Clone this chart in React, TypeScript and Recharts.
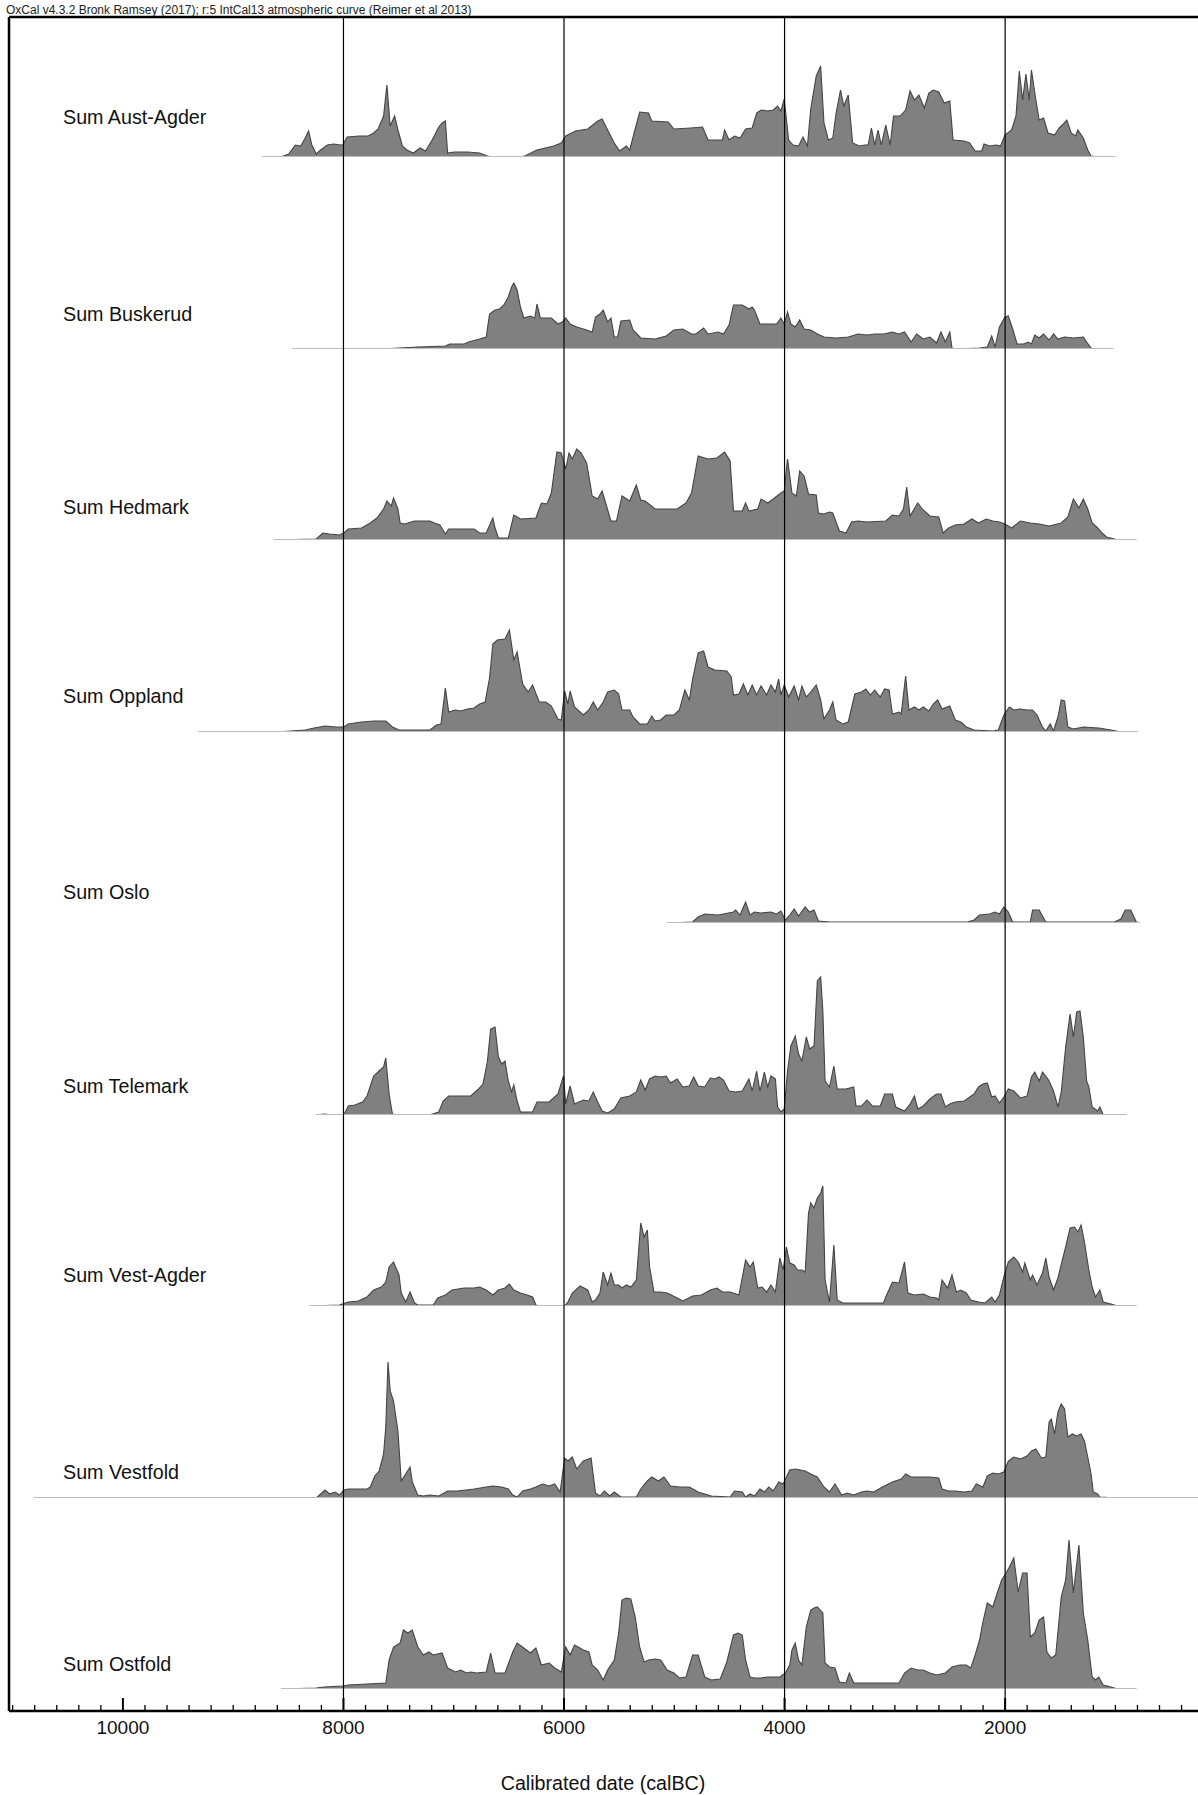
import React from 'react';
import { AreaChart, Area, XAxis, YAxis, ReferenceLine, ComposedChart, Line } from 'recharts';

// ---------- data: [calBC year, relative probability (scaled)] ----------
const REGIONS: string[] = [
  'Sum Aust-Agder', 'Sum Buskerud', 'Sum Hedmark', 'Sum Oppland', 'Sum Oslo',
  'Sum Telemark', 'Sum Vest-Agder', 'Sum Vestfold', 'Sum Ostfold',
];

const AUST_AGDER: [number, number][] = [[8730,0],[8560,0],[8490,3],[8430,12],[8380,11],[8340,19],[8310,26],[8280,12],[8240,3],[8200,7],[8140,12],[8080,13],[8020,12],[8000,12],[7960,20],[7850,21],[7770,21],[7720,24],[7680,28],[7630,41],[7600,72],[7570,31],[7530,41],[7500,27],[7460,11],[7420,7],[7360,4],[7300,9],[7250,6],[7190,17],[7130,30],[7100,34],[7070,36],[7050,4],[6990,5],[6870,5],[6760,4],[6690,1],[6640,0],[6410,0],[6350,1],[6240,7],[6090,11],[6020,14],[5980,21],[5890,26],[5780,28],[5690,36],[5650,38],[5600,27],[5540,14],[5490,6],[5430,11],[5400,7],[5360,24],[5310,45],[5230,44],[5200,36],[5050,35],[5000,28],[4850,29],[4740,30],[4690,17],[4560,17],[4540,27],[4500,17],[4450,21],[4400,19],[4350,28],[4290,29],[4250,44],[4210,47],[4150,46],[4100,47],[4060,51],[4030,46],[4000,58],[3960,17],[3920,12],[3870,11],[3830,20],[3790,11],[3760,48],[3710,81],[3670,91],[3640,34],[3600,17],[3560,19],[3530,44],[3490,67],[3460,51],[3420,62],[3380,14],[3320,11],[3270,12],[3240,12],[3210,29],[3180,12],[3150,27],[3120,12],[3080,32],[3040,12],[3010,41],[2950,41],[2900,47],[2860,66],[2820,57],[2780,62],[2730,49],[2690,64],[2650,67],[2600,65],[2550,54],[2500,56],[2470,17],[2370,16],[2320,14],[2270,6],[2210,6],[2190,13],[2140,11],[2080,12],[2040,11],[2000,22],[1940,27],[1900,41],[1870,86],[1840,57],[1810,83],[1780,57],[1760,87],[1720,57],[1690,37],[1650,39],[1610,24],[1550,22],[1510,29],[1480,32],[1440,37],[1400,24],[1360,21],[1340,27],[1290,19],[1250,7],[1220,1],[1160,0],[1000,0]];

const BUSKERUD: [number, number][] = [[8455,0],[7610,0.3],[7320,2],[7070,3],[7030,5],[6900,5],[6860,7],[6760,10],[6700,12],[6670,35],[6620,39],[6580,40],[6540,44],[6500,52],[6470,62],[6450,66],[6420,59],[6390,42],[6360,31],[6300,33],[6260,31],[6240,45],[6210,31],[6110,31],[6050,25],[6010,27],[5980,31],[5940,25],[5880,22],[5790,19],[5740,17],[5710,32],[5670,35],[5640,39],[5600,27],[5570,31],[5540,12],[5510,12],[5480,28],[5400,29],[5370,19],[5300,11],[5170,10],[5070,13],[5000,19],[4920,20],[4840,15],[4800,15],[4730,21],[4690,15],[4600,17],[4550,15],[4500,24],[4460,44],[4380,44],[4320,40],[4290,42],[4270,39],[4220,25],[4070,25],[4030,31],[4000,25],[3970,37],[3940,25],[3900,22],[3860,29],[3820,20],[3760,19],[3700,15],[3640,12],[3530,11],[3420,12],[3330,15],[3250,14],[3180,15],[3100,15],[3020,17],[2960,15],[2910,17],[2850,7],[2800,15],[2740,10],[2680,12],[2620,6],[2580,17],[2540,7],[2500,17],[2480,1],[2450,0],[2230,1],[2160,2],[2120,13],[2090,2],[2050,22],[2000,32],[1970,33],[1930,20],[1890,5],[1830,5],[1790,7],[1760,5],[1730,14],[1690,11],[1650,15],[1600,9],[1560,15],[1520,10],[1460,12],[1380,11],[1290,12],[1260,7],[1220,1],[1200,0],[1020,0]];

const HEDMARK: [number, number][] = [[8625,0],[8240,1],[8180,7],[8120,6],[8030,5],[7990,7],[7950,11],[7830,12],[7750,17],[7690,22],[7630,31],[7600,39],[7560,34],[7540,42],[7500,31],[7480,17],[7440,16],[7350,19],[7210,19],[7170,17],[7120,15],[7070,6],[7040,11],[6980,11],[6810,11],[6760,7],[6700,7],[6640,22],[6620,12],[6590,2],[6500,2],[6450,25],[6390,21],[6250,22],[6200,37],[6150,36],[6110,47],[6060,88],[6020,87],[5980,71],[5950,87],[5920,81],[5880,91],[5840,87],[5790,77],[5740,44],[5690,41],[5650,49],[5610,34],[5570,19],[5520,19],[5470,44],[5400,39],[5340,55],[5300,40],[5260,39],[5170,31],[5060,31],[4970,31],[4890,37],[4840,47],[4780,84],[4690,81],[4610,82],[4540,88],[4490,79],[4460,29],[4380,29],[4350,37],[4320,29],[4240,31],[4210,41],[4150,37],[4100,41],[4030,47],[4000,49],[3970,81],[3930,47],[3890,44],[3860,69],[3820,64],[3780,46],[3710,45],[3690,27],[3640,26],[3590,28],[3560,27],[3500,9],[3440,7],[3390,18],[3330,19],[3250,18],[3080,19],[3020,25],[2960,24],[2920,31],[2890,53],[2860,24],[2790,37],[2750,31],[2680,24],[2600,23],[2560,7],[2510,12],[2450,15],[2370,16],[2300,21],[2240,17],[2170,21],[2110,19],[2050,18],[2000,16],[1940,12],[1860,19],[1770,17],[1690,16],[1600,14],[1490,17],[1430,23],[1380,41],[1330,32],[1290,41],[1250,31],[1210,17],[1160,12],[1120,7],[1080,3],[1010,1],[980,0],[810,0]];

const OPPLAND: [number, number][] = [[9305,0],[8570,0.3],[8340,2],[8260,4],[8160,6],[8060,5],[7990,5],[7950,8],[7830,10],[7720,11],[7610,11],[7550,5],[7490,2],[7210,2],[7150,7],[7110,8],[7070,44],[7040,20],[6980,22],[6930,21],[6870,23],[6810,24],[6760,28],[6710,30],[6670,54],[6640,88],[6600,92],[6530,93],[6490,102],[6450,72],[6420,80],[6370,48],[6320,40],[6280,47],[6220,30],[6160,30],[6110,26],[6050,13],[6020,12],[5990,41],[5960,28],[5940,41],[5900,25],[5820,17],[5770,22],[5730,30],[5690,22],[5640,30],[5600,40],[5540,42],[5500,38],[5470,22],[5400,22],[5370,15],[5310,8],[5240,8],[5200,16],[5170,11],[5120,12],[5070,17],[5000,17],[4950,22],[4900,42],[4860,32],[4830,53],[4780,79],[4730,81],[4690,65],[4630,62],[4520,61],[4480,55],[4460,37],[4410,38],[4370,48],[4330,37],[4290,47],[4250,37],[4210,46],[4160,37],[4120,47],[4080,40],[4050,53],[4030,37],[4000,47],[3960,35],[3910,46],[3870,32],[3840,46],[3800,35],[3760,40],[3710,47],[3670,32],[3640,13],[3590,22],[3560,30],[3530,12],[3470,8],[3420,10],[3360,38],[3300,40],[3260,43],[3220,37],[3180,42],[3130,35],[3090,43],[3050,42],[3020,18],[2960,20],[2940,18],[2900,56],[2870,22],[2820,25],[2780,22],[2740,25],[2690,21],[2650,28],[2610,32],[2570,23],[2500,26],[2450,12],[2400,10],[2350,5],[2280,2],[2110,1],[2060,2],[2010,17],[1960,25],[1920,22],[1860,23],[1800,22],[1750,22],[1710,17],[1660,5],[1630,1],[1590,8],[1560,1],[1520,15],[1490,32],[1460,31],[1430,5],[1380,3],[1290,5],[1150,4],[1040,2],[950,0],[800,0]];

const OSLO: [number, number][] = [[5058,0],[4830,1],[4780,6],[4720,9],[4600,8],[4550,9],[4460,11],[4440,13],[4400,8],[4350,21],[4310,8],[4270,11],[4210,10],[4120,11],[4070,9],[4030,12],[3990,3],[3950,8],[3910,14],[3870,7],[3810,16],[3770,11],[3730,13],[3690,2],[3590,1],[2340,1],[2280,3],[2230,8],[2140,9],[2090,11],[2050,9],[2010,16],[1970,11],[1930,1],[1770,1],[1750,13],[1690,13],[1630,1],[1010,1],[950,4],[910,13],[860,13],[810,1],[780,0]];

const TELEMARK: [number, number][] = [[8240,0],[8170,1],[8090,0.3],[7990,0],[7950,9],[7890,10],[7820,13],[7780,19],[7720,39],[7670,44],[7630,48],[7610,57],[7580,21],[7550,1],[7520,0],[7210,0.3],[7130,3],[7090,14],[7040,19],[6840,19],[6770,26],[6730,31],[6690,53],[6660,86],[6620,88],[6590,58],[6560,51],[6530,54],[6500,34],[6470,23],[6450,30],[6420,14],[6390,3],[6280,3],[6240,13],[6130,13],[6080,18],[6050,21],[6000,39],[5980,11],[5940,29],[5900,11],[5820,15],[5770,14],[5730,23],[5690,13],[5650,4],[5600,2],[5540,6],[5480,17],[5400,19],[5340,23],[5300,35],[5260,25],[5220,36],[5170,39],[5120,38],[5070,39],[5030,32],[4970,36],[4920,28],[4860,29],[4820,38],[4780,29],[4720,28],[4670,37],[4630,36],[4590,38],[4550,35],[4500,24],[4440,23],[4380,24],[4320,36],[4290,24],[4250,44],[4220,24],[4180,43],[4150,28],[4120,39],[4080,36],[4060,8],[4030,3],[4000,6],[3970,44],[3940,69],[3900,79],[3870,61],[3840,54],[3800,78],[3770,66],[3730,69],[3700,134],[3670,138],[3650,104],[3630,34],[3590,28],[3550,49],[3520,26],[3440,26],[3370,28],[3350,9],[3300,9],[3250,15],[3200,9],[3130,9],[3090,21],[3020,21],[2990,8],[2910,4],[2860,11],[2820,19],[2790,6],[2740,9],[2680,16],[2620,21],[2580,21],[2540,8],[2500,11],[2450,13],[2370,14],[2280,21],[2240,28],[2200,31],[2160,32],[2120,18],[2090,19],[2050,12],[2010,18],[1970,26],[1920,24],[1860,17],[1800,19],[1760,38],[1730,43],[1690,34],[1660,43],[1630,39],[1600,34],[1560,24],[1520,8],[1490,23],[1450,68],[1410,101],[1380,78],[1350,103],[1320,104],[1290,78],[1260,34],[1240,28],[1210,8],[1160,4],[1140,8],[1110,0.3],[1080,0],[900,0]];

const VEST_AGDER: [number, number][] = [[8300,0],[8030,1],[7950,4],[7860,5],[7780,9],[7720,16],[7650,19],[7610,24],[7580,39],[7540,44],[7490,31],[7470,13],[7430,4],[7390,14],[7350,3],[7320,1],[7180,1],[7140,8],[7070,11],[7010,16],[6900,18],[6810,18],[6760,19],[6700,16],[6640,11],[6590,16],[6530,18],[6490,22],[6450,16],[6390,13],[6330,11],[6280,9],[6250,1],[6220,0],[5990,0],[5960,4],[5920,13],[5850,20],[5780,16],[5740,4],[5710,6],[5670,13],[5640,34],[5600,21],[5570,33],[5540,21],[5500,21],[5470,18],[5430,21],[5390,19],[5340,26],[5300,83],[5270,69],[5240,76],[5220,39],[5180,14],[5120,14],[5060,13],[4970,8],[4920,5],[4830,10],[4750,11],[4670,16],[4610,18],[4560,14],[4490,14],[4410,11],[4350,46],[4310,39],[4280,44],[4240,18],[4200,19],[4160,14],[4120,21],[4080,14],[4040,48],[4010,36],[3980,59],[3950,43],[3910,41],[3880,36],[3840,36],[3810,34],[3780,93],[3760,103],[3730,98],[3700,108],[3670,113],[3650,120],[3630,26],[3590,4],[3550,61],[3520,6],[3470,3],[3360,3],[3100,3],[3080,9],[3020,24],[2960,23],[2910,44],[2880,13],[2820,11],[2740,12],[2680,9],[2620,8],[2600,6],[2570,26],[2520,18],[2480,31],[2440,14],[2400,16],[2350,13],[2310,6],[2240,4],[2180,3],[2120,9],[2090,4],[2050,11],[2010,29],[1970,44],[1920,49],[1880,44],[1840,34],[1820,43],[1770,26],[1750,31],[1710,21],[1660,33],[1630,48],[1600,29],[1560,16],[1520,28],[1480,46],[1450,59],[1410,78],[1370,79],[1340,74],[1310,81],[1280,64],[1240,36],[1210,19],[1180,9],[1140,16],[1110,4],[1040,2],[980,0],[810,0]];

const VESTFOLD: [number, number][] = [[10800,0],[8240,0],[8200,4],[8160,8],[8120,4],[8070,6],[8030,3],[7990,8],[7950,9],[7780,9],[7750,11],[7710,22],[7670,27],[7630,44],[7610,71],[7590,136],[7570,107],[7540,97],[7500,67],[7470,17],[7430,24],[7390,31],[7370,16],[7320,3],[7270,2],[7210,3],[7130,2],[7050,7],[6960,7],[6810,9],[6700,11],[6640,12],[6560,11],[6500,9],[6460,3],[6420,1],[6370,7],[6300,9],[6250,11],[6190,14],[6130,12],[6080,14],[6030,6],[5990,40],[5960,37],[5920,41],[5880,29],[5820,37],[5750,40],[5710,5],[5670,2],[5630,7],[5580,2],[5540,6],[5480,1],[5340,1],[5300,9],[5240,17],[5200,21],[5140,17],[5090,21],[5030,12],[4950,11],[4860,11],[4780,6],[4660,2],[4490,1],[4450,7],[4380,6],[4350,1],[4310,4],[4270,2],[4220,9],[4180,6],[4140,11],[4100,7],[4050,16],[4010,14],[3950,28],[3900,29],[3810,27],[3760,24],[3700,21],[3640,11],[3590,6],[3540,14],[3480,3],[3430,5],[3370,3],[3300,6],[3250,7],[3190,6],[3110,11],[3020,16],[2940,19],[2900,24],[2850,21],[2680,21],[2600,20],[2570,9],[2510,7],[2450,7],[2370,6],[2300,7],[2260,14],[2200,11],[2160,22],[2110,25],[2060,24],[2010,26],[1970,37],[1920,41],[1860,39],[1800,42],[1760,47],[1720,49],[1670,40],[1630,41],[1600,76],[1580,79],[1550,64],[1520,86],[1490,94],[1460,89],[1430,61],[1390,64],[1350,62],[1310,64],[1280,57],[1250,41],[1220,24],[1200,6],[1160,4],[1140,1],[980,0],[251,0]];

const OSTFOLD: [number, number][] = [[8560,0],[8240,1],[8170,2],[8000,3],[7950,4],[7780,5],[7610,6],[7580,29],[7540,42],[7480,46],[7450,59],[7410,56],[7370,59],[7320,42],[7270,34],[7220,37],[7180,34],[7100,36],[7050,21],[6980,17],[6930,19],[6880,16],[6840,17],[6790,16],[6700,17],[6660,36],[6620,16],[6530,16],[6460,37],[6420,46],[6360,41],[6300,36],[6250,41],[6200,24],[6130,26],[6080,21],[6020,17],[5980,42],[5940,34],[5900,44],[5820,39],[5770,37],[5740,24],[5690,19],[5640,9],[5600,19],[5540,29],[5500,56],[5470,89],[5430,91],[5390,90],[5350,72],[5310,42],[5270,27],[5230,29],[5170,30],[5120,29],[5060,19],[5000,16],[4950,11],[4890,12],[4830,34],[4780,34],[4720,12],[4660,9],[4580,10],[4520,27],[4460,54],[4420,56],[4380,54],[4350,29],[4310,12],[4270,11],[4210,11],[4150,12],[4100,12],[4040,12],[3990,16],[3950,24],[3930,39],[3900,46],[3870,29],[3840,24],[3800,62],[3760,79],[3730,81],[3700,82],[3650,76],[3630,26],[3590,22],[3540,21],[3500,7],[3440,6],[3410,16],[3370,6],[3300,6],[2960,6],[2910,16],[2850,21],[2790,19],[2740,19],[2680,16],[2620,14],[2540,16],[2480,22],[2410,24],[2350,24],[2310,21],[2270,34],[2230,49],[2200,67],[2160,86],[2110,82],[2070,96],[2030,109],[1990,116],[1960,122],[1920,131],[1880,97],[1840,116],[1800,116],[1770,52],[1730,56],[1690,69],[1650,72],[1620,37],[1580,31],[1540,34],[1490,92],[1450,109],[1420,149],[1380,96],[1330,144],[1290,76],[1250,49],[1210,12],[1180,9],[1150,12],[1110,4],[1040,2],[980,0],[810,0]];

const SERIES: [number, number][][] = [AUST_AGDER, BUSKERUD, HEDMARK, OPPLAND, OSLO, TELEMARK, VEST_AGDER, VESTFOLD, OSTFOLD];

const TICK_LABELS: number[] = [10000, 8000, 6000, 4000, 2000];
const GRID_YEARS: number[] = [8000, 6000, 4000, 2000];
const MINOR_STEP = 200;
const TICK_FIRST = 11000;
const TICK_LAST = 400;

const HEADER = 'OxCal v4.3.2 Bronk Ramsey (2017); r:5 IntCal13 atmospheric curve (Reimer et al 2013)';
const X_TITLE = 'Calibrated date (calBC)';

// ---------- layout ----------
const W = 1198;
const PAGE_H = 1795;
const PLOT_LEFT = 8;
const FRAME_TOP = 17;
const AXIS_Y = 1712;
const X_MIN = 251;
const X_MAX = 11033;
const ROW_H = 155;
const Y_MAX = 155;
const FIRST_BASELINE = 157;
const ROW_STEP = 191.5;
const LABEL_CENTER_Y = [117, 314, 507, 696, 892, 1086, 1275, 1472, 1664];
const FONT = '"Liberation Sans", Arial, Helvetica, sans-serif';

const ALL_TICKS: number[] = [];
for (let t = TICK_FIRST; t >= TICK_LAST; t -= MINOR_STEP) ALL_TICKS.push(t);

function RowChart({ series, baseline }: { series: [number, number][]; baseline: number }) {
  const data = series.map(([year, v]) => ({ year, v }));
  const first = series[0][0];
  const last = series[series.length - 1][0];
  return (
    <div style={{ position: 'absolute', left: 0, top: baseline - ROW_H, width: W, height: ROW_H }}>
      <AreaChart width={W} height={ROW_H} data={data} margin={{ top: 0, right: 0, bottom: 0, left: PLOT_LEFT }}>
        <XAxis dataKey="year" type="number" domain={[X_MIN, X_MAX]} reversed hide allowDataOverflow />
        <YAxis type="number" domain={[0, Y_MAX]} hide allowDataOverflow />
        <ReferenceLine
          segment={[{ x: first, y: 0 }, { x: last, y: 0 }]}
          stroke="#bdbdbd"
          strokeWidth={2.2}
          ifOverflow="visible"
        />
        <Area
          type="linear"
          dataKey="v"
          stroke="#444444"
          strokeWidth={1.1}
          fill="#808080"
          fillOpacity={1}
          dot={false}
          activeDot={false}
          isAnimationActive={false}
        />
      </AreaChart>
    </div>
  );
}

const renderTick = (props: any) => {
  const { x, payload } = props;
  const v = payload.value as number;
  const major = TICK_LABELS.includes(v);
  return (
    <g key={`t-${v}`}>
      <line x1={x} x2={x} y1={AXIS_Y} y2={AXIS_Y - (major ? 14 : 7)} stroke="#000" strokeWidth={major ? 2 : 1.3} />
      {major && (
        <text x={x} y={AXIS_Y + 22} textAnchor="middle" fontSize={19} fontFamily={FONT} fill="#111">
          {v}
        </text>
      )}
    </g>
  );
};

const FRAME_DATA = GRID_YEARS.map((year) => ({ year, base: 0 }));

export default function App() {
  return (
    <div style={{ position: 'absolute', left: 0, top: 0, width: W, height: PAGE_H, background: '#fff', fontFamily: FONT, overflow: 'hidden' }}>
      <div style={{ position: 'absolute', left: 6, top: 3, fontSize: 12, lineHeight: '14px', color: '#222', whiteSpace: 'nowrap' }}>
        {HEADER}
      </div>

      {SERIES.map((s, i) => (
        <RowChart key={REGIONS[i]} series={s} baseline={FIRST_BASELINE + i * ROW_STEP} />
      ))}

      {REGIONS.map((name, i) => (
        <div
          key={`lbl-${name}`}
          style={{ position: 'absolute', left: 63, top: LABEL_CENTER_Y[i] - 10, fontSize: 19.7, lineHeight: '20px', color: '#111', whiteSpace: 'nowrap' }}
        >
          {name}
        </div>
      ))}

      <div style={{ position: 'absolute', left: 0, top: 0, width: W, height: PAGE_H }}>
        <ComposedChart
          width={W}
          height={PAGE_H}
          data={FRAME_DATA}
          margin={{ top: FRAME_TOP, right: 0, bottom: PAGE_H - AXIS_Y, left: PLOT_LEFT }}
        >
          <XAxis
            dataKey="year"
            type="number"
            domain={[X_MIN, X_MAX]}
            reversed
            allowDataOverflow
            ticks={ALL_TICKS}
            interval={0}
            tickSize={0}
            tickMargin={0}
            tickLine={false}
            tick={renderTick}
            height={1}
            axisLine={{ stroke: '#000', strokeWidth: 2.5 }}
          />
          <YAxis type="number" domain={[0, 1]} allowDataOverflow width={1} tick={false} tickLine={false} axisLine={{ stroke: '#000', strokeWidth: 2.5 }} />
          <Line dataKey="base" stroke="none" dot={false} activeDot={false} isAnimationActive={false} />
          <ReferenceLine y={1} stroke="#000" strokeWidth={2.5} ifOverflow="visible" />
          {GRID_YEARS.map((y) => (
            <ReferenceLine key={`g-${y}`} x={y} stroke="#000" strokeWidth={1.2} ifOverflow="visible" />
          ))}
        </ComposedChart>
      </div>

      <div style={{ position: 'absolute', left: PLOT_LEFT, width: W - PLOT_LEFT, top: 1771, fontSize: 19.7, lineHeight: '24px', textAlign: 'center', color: '#111' }}>
        {X_TITLE}
      </div>
    </div>
  );
}
